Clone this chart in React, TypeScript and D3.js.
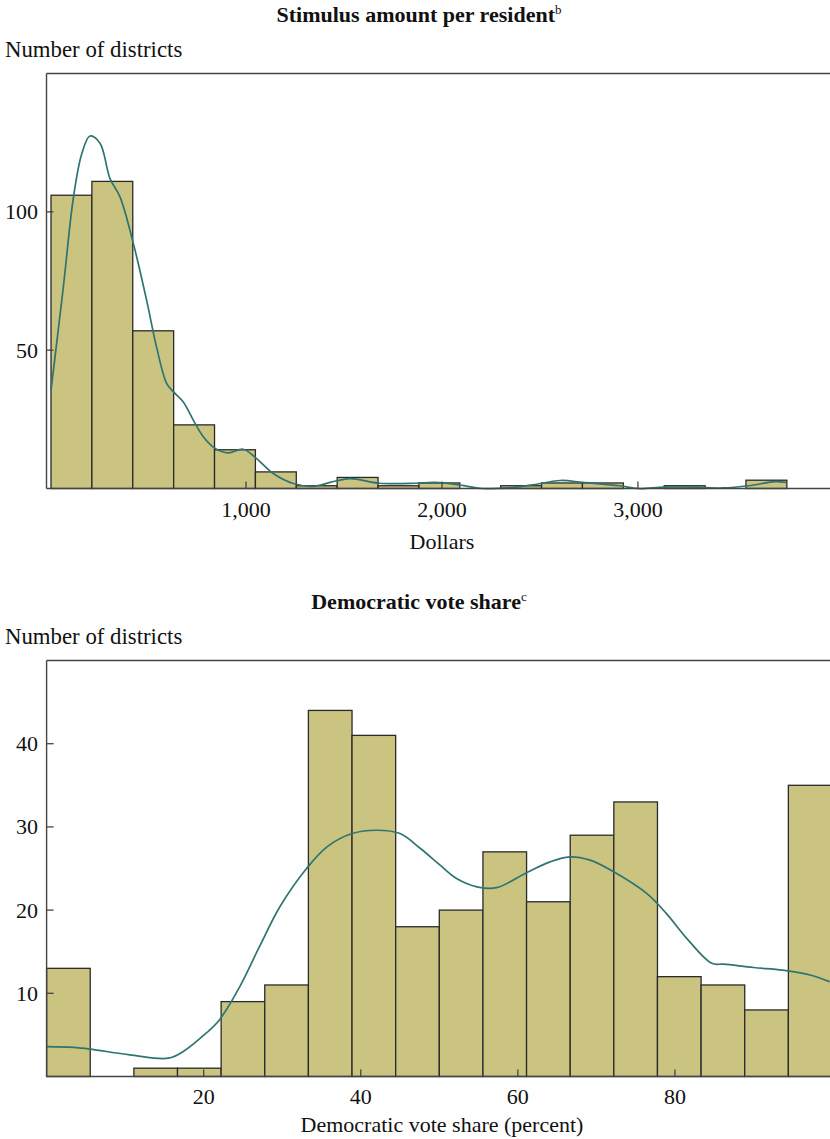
import React from "react";
import * as d3 from "d3";

// ---------- Data ----------
// Panel 1: stimulus amount per resident (dollars)
const stimulusBinStart = 5;
const stimulusBinWidth = 208.6;
const stimulusCounts = [106, 111, 57, 23, 14, 6, 1, 4, 1, 2, 0, 1, 2, 2, 0, 1, 0, 3];
const stimulusDensity: [number, number][] = [
  [5, 35.5], [68, 72.9], [119, 105], [162, 121], [204, 127.4], [255, 124.8], [306, 112],
  [357, 105.4], [425, 88.6], [493, 68], [544, 51], [595, 38], [629, 35], [680, 31.3],
  [731, 24.7], [782, 18.7], [842, 14.5], [910, 12.9], [986, 14.2], [1054, 10.8],
  [1139, 5.4], [1241, 1.8], [1343, 0.8], [1429, 2.2], [1530, 3.6], [1681, 1.9],
  [1868, 1.9], [1964, 2.2], [2077, 1.4], [2209, 0], [2342, 0.2], [2453, 1.2],
  [2605, 2.9], [2719, 2.2], [2908, 1.0], [3000, 0], [3133, 0.5], [3286, 0.5],
  [3434, 0.2], [3566, 1.0], [3700, 2.5], [3755, 2.2],
];
const stimulusXTicks = [1000, 2000, 3000];
const stimulusYTicks = [50, 100];

// Panel 2: Democratic vote share (percent)
const voteBinStart = 0;
const voteBinWidth = 100 / 18;
const voteCounts = [13, 0, 1, 1, 9, 11, 44, 41, 18, 20, 27, 21, 29, 33, 12, 11, 8, 35];
const voteDensity: [number, number][] = [
  [0, 3.6], [3.4, 3.5], [5.5, 3.3], [10.6, 2.6], [15.5, 2.2], [17.4, 3.0], [20.3, 5.2],
  [22, 6.8], [24.6, 10.8], [27.1, 15.6], [29.7, 20.4], [33.1, 25], [35.7, 27.6],
  [38.9, 29.2], [42.1, 29.6], [45, 29.2], [47.6, 27.4], [50.1, 25.4], [52.2, 23.8],
  [54.8, 22.8], [57.3, 22.7], [61.1, 24.5], [64.1, 25.8], [66.6, 26.4], [69.2, 26],
  [72.2, 24.6], [76.4, 22], [78.9, 19.6], [81.5, 16.6], [84.7, 13.6], [86.2, 13.5],
  [90, 13.1], [94.4, 12.7], [97.2, 12.2], [99.7, 11.4],
];
const voteXTicks = [20, 40, 60, 80];
const voteYTicks = [10, 20, 30, 40];

// ---------- Styles ----------
const FONT = "Liberation Serif";
const BAR_FILL = "#cbc480";
const BAR_STROKE = "#2a2a2a";
const LINE_COLOR = "#2e7471";
const AXIS_COLOR = "#444";
const TXT = { fontFamily: FONT };

type PanelProps = {
  top: number;
  title: string;
  sup: string;
  xLabel: string;
  xDomain: [number, number];
  xRange: [number, number];
  yMax: number;
  plotTop: number;
  plotBottom: number;
  binStart: number;
  binWidth: number;
  counts: number[];
  density: [number, number][];
  xTicks: number[];
  yTicks: number[];
  xTickFmt: (v: number) => string;
  xLabelOffset: number;
  tickLabelOffset: number;
};

function Panel(p: PanelProps) {
  const x = d3.scaleLinear().domain(p.xDomain).range(p.xRange);
  const y = d3.scaleLinear().domain([0, p.yMax]).range([p.plotBottom, p.plotTop]);
  const left = p.xRange[0];
  const right = 840;
  const line = d3
    .line<[number, number]>()
    .x((d) => x(d[0]))
    .y((d) => y(d[1]))
    .curve(d3.curveCatmullRom.alpha(0.5));
  const cx = 419;
  return (
    <g>
      <text
        x={cx}
        y={p.top + 22.3}
        textAnchor="middle"
        style={TXT}
        fontWeight="bold"
        fontSize={22}
        fill="#111"
      >
        {p.title}
        <tspan fontSize={13} fontWeight="normal" dy={-8}>
          {p.sup}
        </tspan>
      </text>
      <text x={5} y={p.top + 56.7} style={TXT} fontSize={22.8} fill="#111">
        Number of districts
      </text>
      {/* bars */}
      {p.counts.map((c, i) => {
        if (c <= 0) return null;
        const x0 = x(p.binStart + i * p.binWidth);
        const x1 = x(p.binStart + (i + 1) * p.binWidth);
        return (
          <rect
            key={i}
            x={x0}
            y={y(c)}
            width={x1 - x0}
            height={y(0) - y(c)}
            fill={BAR_FILL}
            stroke={BAR_STROKE}
            strokeWidth={1.3}
          />
        );
      })}
      {/* density */}
      <path d={line(p.density) || ""} fill="none" stroke={LINE_COLOR} strokeWidth={1.7} />
      {/* frame */}
      <line x1={left} x2={right} y1={p.plotTop} y2={p.plotTop} stroke={AXIS_COLOR} strokeWidth={1.4} />
      <line x1={left} x2={left} y1={p.plotTop} y2={p.plotBottom} stroke={AXIS_COLOR} strokeWidth={1.4} />
      <line x1={left} x2={right} y1={p.plotBottom} y2={p.plotBottom} stroke={AXIS_COLOR} strokeWidth={1.6} />
      {/* y ticks */}
      {p.yTicks.map((t) => (
        <g key={"y" + t}>
          <line x1={left} x2={left + 7} y1={y(t)} y2={y(t)} stroke={AXIS_COLOR} strokeWidth={1.3} />
          <text x={38} y={y(t) + 7.5} textAnchor="end" style={TXT} fontSize={22} fill="#111">
            {t}
          </text>
        </g>
      ))}
      {/* x ticks */}
      {p.xTicks.map((t) => (
        <g key={"x" + t}>
          <line x1={x(t)} x2={x(t)} y1={p.plotBottom} y2={p.plotBottom - 7} stroke={AXIS_COLOR} strokeWidth={1.3} />
          <text
            x={x(t)}
            y={p.plotBottom + p.tickLabelOffset}
            textAnchor="middle"
            style={TXT}
            fontSize={22}
            fill="#111"
          >
            {p.xTickFmt(t)}
          </text>
        </g>
      ))}
      <text
        x={442}
        y={p.plotBottom + p.xLabelOffset}
        textAnchor="middle"
        style={TXT}
        fontSize={22}
        fill="#111"
      >
        {p.xLabel}
      </text>
    </g>
  );
}

export default function App() {
  const commaFmt = d3.format(",");
  return (
    <svg
      width={830}
      height={1139}
      viewBox="0 0 830 1139"
      style={{ position: "absolute", left: 0, top: 0, background: "#fff" }}
    >
      <rect x={0} y={0} width={830} height={1139} fill="#fff" />
      <Panel
        top={0}
        title="Stimulus amount per resident"
        sup="b"
        xLabel="Dollars"
        xDomain={[-18, 3980]}
        xRange={[46.5, 830]}
        yMax={150}
        plotTop={73.5}
        plotBottom={488.5}
        binStart={stimulusBinStart}
        binWidth={stimulusBinWidth}
        counts={stimulusCounts}
        density={stimulusDensity}
        xTicks={stimulusXTicks}
        yTicks={stimulusYTicks}
        xTickFmt={(v) => commaFmt(v)}
        xLabelOffset={60.5}
        tickLabelOffset={28}
      />
      <Panel
        top={587}
        title="Democratic vote share"
        sup="c"
        xLabel="Democratic vote share (percent)"
        xDomain={[0, 100]}
        xRange={[46.6, 832]}
        yMax={50}
        plotTop={660.5}
        plotBottom={1076.5}
        binStart={voteBinStart}
        binWidth={voteBinWidth}
        counts={voteCounts}
        density={voteDensity}
        xTicks={voteXTicks}
        yTicks={voteYTicks}
        xTickFmt={(v) => String(v)}
        xLabelOffset={55.5}
        tickLabelOffset={27}
      />
    </svg>
  );
}
